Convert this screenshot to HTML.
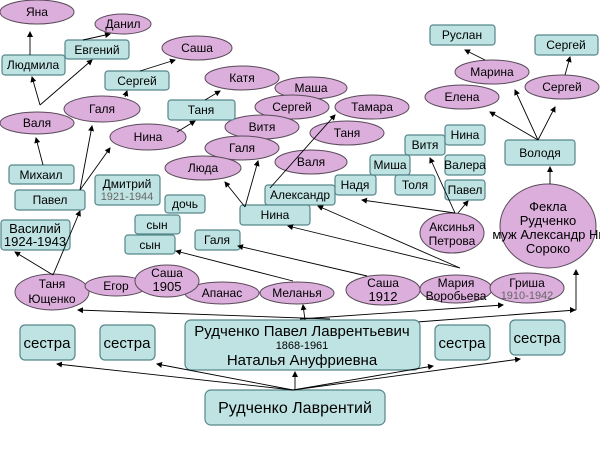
<!DOCTYPE html>
<html><head><meta charset="utf-8">
<style>
html,body{margin:0;padding:0;background:#fff;}
svg{display:block;}
.b{fill:#bfe3e3;stroke:#55868a;stroke-width:1.2;}
.e{fill:#dcaedc;stroke:#5a4a5a;stroke-width:1;}
text{font-family:"Liberation Sans",Arial,sans-serif;font-size:12px;fill:#000;text-anchor:middle;}
.g{fill:#666;font-size:11px;}
.l{stroke:#000;stroke-width:0.9;fill:none;marker-end:url(#a);}
.n{stroke:#000;stroke-width:0.9;fill:none;}
</style></head>
<body>
<svg width="600" height="450" viewBox="0 0 600 450" xmlns="http://www.w3.org/2000/svg">
<defs><marker id="a" markerWidth="6" markerHeight="6" refX="5" refY="3" orient="auto" markerUnits="userSpaceOnUse"><path d="M0,0 L6,3 L0,6 z" fill="#000"/></marker></defs>

<!-- lower connectors (under shapes) -->
<line class="n" x1="417" y1="322" x2="576" y2="310"/>
<line class="l" x1="576" y1="310" x2="576" y2="270"/>
<path d="M576,310 l-6,-3 l0,6 z" fill="#000"/>

<!-- ellipses -->
<ellipse class="e" cx="37" cy="12" rx="37" ry="12"/><text x="37" y="16">Яна</text>
<ellipse class="e" cx="123" cy="24" rx="28" ry="10"/><text x="123" y="28">Данил</text>
<ellipse class="e" cx="197" cy="48" rx="35" ry="12"/><text x="197" y="52">Саша</text>
<ellipse class="e" cx="102" cy="109" rx="38" ry="13"/><text x="102" y="113">Галя</text>
<ellipse class="e" cx="37" cy="123" rx="37" ry="11"/><text x="37" y="127">Валя</text>
<ellipse class="e" cx="148" cy="137" rx="38" ry="13"/><text x="148" y="141">Нина</text>
<ellipse class="e" cx="242" cy="78" rx="37" ry="12"/><text x="242" y="82">Катя</text>
<ellipse class="e" cx="311" cy="88" rx="36" ry="11"/><text x="311" y="92">Маша</text>
<ellipse class="e" cx="292" cy="107" rx="37" ry="12"/><text x="292" y="111">Сергей</text>
<ellipse class="e" cx="372" cy="107" rx="37" ry="12"/><text x="372" y="111">Тамара</text>
<ellipse class="e" cx="262" cy="127" rx="37" ry="12"/><text x="262" y="131">Витя</text>
<ellipse class="e" cx="347" cy="133" rx="37" ry="12"/><text x="347" y="137">Таня</text>
<ellipse class="e" cx="242" cy="148" rx="37" ry="12"/><text x="242" y="152">Галя</text>
<ellipse class="e" cx="203" cy="168" rx="38" ry="12"/><text x="203" y="172">Люда</text>
<ellipse class="e" cx="311" cy="162" rx="36" ry="12"/><text x="311" y="166">Валя</text>
<ellipse class="e" cx="492" cy="72" rx="37" ry="12"/><text x="492" y="76">Марина</text>
<ellipse class="e" cx="462" cy="97" rx="37" ry="12"/><text x="462" y="101">Елена</text>
<ellipse class="e" cx="562" cy="87" rx="37" ry="12"/><text x="562" y="91">Сергей</text>
<ellipse class="e" cx="452" cy="233" rx="32" ry="20"/><text x="452" y="231">Аксинья</text><text x="452" y="245">Петрова</text>
<ellipse class="e" cx="548" cy="226" rx="48" ry="42"/>
<text x="548" y="211" style="font-size:13px">Фекла</text>
<text x="548" y="225" style="font-size:13px">Рудченко</text>
<text x="549" y="239" style="font-size:13px">муж Александр Ни</text>
<text x="548" y="253" style="font-size:13px">Сороко</text>

<ellipse class="e" cx="52" cy="292" rx="37" ry="18"/><text x="52" y="288">Таня</text><text x="52" y="303">Ющенко</text>
<ellipse class="e" cx="116" cy="286" rx="31" ry="10"/><text x="116" y="290">Егор</text>
<ellipse class="e" cx="222" cy="293" rx="37" ry="11"/><text x="222" y="297">Апанас</text>
<ellipse class="e" cx="167" cy="281" rx="32" ry="16"/><text x="167" y="277">Саша</text><text x="167" y="291" style="font-size:13px">1905</text>
<ellipse class="e" cx="297" cy="293" rx="37" ry="11"/><text x="297" y="297">Меланья</text>
<ellipse class="e" cx="383" cy="290" rx="37" ry="15"/><text x="383" y="287">Саша</text><text x="383" y="301" style="font-size:13px">1912</text>
<ellipse class="e" cx="456" cy="289" rx="36" ry="14"/><text x="456" y="287">Мария</text><text x="456" y="300">Воробьева</text>
<ellipse class="e" cx="527" cy="288" rx="37" ry="15"/><text x="527" y="287">Гриша</text><text x="527" y="299" class="g">1910-1942</text>

<!-- boxes -->
<rect class="b" x="65" y="40" width="64" height="19" rx="3"/><text x="97" y="54">Евгений</text>
<rect class="b" x="2" y="55" width="63" height="20" rx="3"/><text x="33" y="69">Людмила</text>
<rect class="b" x="105" y="71" width="64" height="19" rx="3"/><text x="137" y="85">Сергей</text>
<rect class="b" x="168" y="100" width="67" height="20" rx="3"/><text x="201" y="114">Таня</text>
<rect class="b" x="9" y="165" width="65" height="19" rx="3"/><text x="41" y="179">Михаил</text>
<rect class="b" x="15" y="190" width="70" height="20" rx="3"/><text x="50" y="204">Павел</text>
<rect class="b" x="95" y="175" width="65" height="30" rx="3"/><text x="127" y="188">Дмитрий</text><text x="127" y="200" class="g">1921-1944</text>
<rect class="b" x="1" y="220" width="69" height="30" rx="3"/><text x="35" y="233" style="font-size:13px">Василий</text><text x="35" y="246" style="font-size:13px">1924-1943</text>
<rect class="b" x="165" y="195" width="40" height="18" rx="3"/><text x="185" y="208">дочь</text>
<rect class="b" x="135" y="215" width="45" height="19" rx="3"/><text x="157" y="229">сын</text>
<rect class="b" x="125" y="235" width="50" height="19" rx="3"/><text x="150" y="249">сын</text>
<rect class="b" x="195" y="230" width="45" height="20" rx="3"/><text x="217" y="244">Галя</text>
<rect class="b" x="265" y="185" width="70" height="20" rx="3"/><text x="300" y="199">Александр</text>
<rect class="b" x="240" y="205" width="70" height="20" rx="3"/><text x="275" y="219">Нина</text>
<rect class="b" x="335" y="175" width="41" height="20" rx="3"/><text x="355" y="189">Надя</text>
<rect class="b" x="370" y="155" width="40" height="20" rx="3"/><text x="390" y="169">Миша</text>
<rect class="b" x="395" y="175" width="40" height="20" rx="3"/><text x="415" y="189">Толя</text>
<rect class="b" x="405" y="135" width="40" height="20" rx="3"/><text x="425" y="149">Витя</text>
<rect class="b" x="445" y="125" width="40" height="20" rx="3"/><text x="465" y="139">Нина</text>
<rect class="b" x="445" y="155" width="40" height="20" rx="3"/><text x="465" y="169">Валера</text>
<rect class="b" x="445" y="180" width="40" height="20" rx="3"/><text x="465" y="194">Павел</text>
<rect class="b" x="505" y="140" width="70" height="25" rx="3"/><text x="540" y="157">Володя</text>
<rect class="b" x="430" y="25" width="65" height="20" rx="3"/><text x="462" y="39">Руслан</text>
<rect class="b" x="535" y="35" width="63" height="20" rx="3"/><text x="566" y="49">Сергей</text>

<rect class="b" x="20" y="325" width="55" height="35" rx="5"/><text x="47" y="348" style="font-size:15px">сестра</text>
<rect class="b" x="100" y="325" width="55" height="35" rx="5"/><text x="127" y="348" style="font-size:15px">сестра</text>
<rect class="b" x="185" y="320" width="235" height="50" rx="6"/>
<text x="302" y="336" style="font-size:15px">Рудченко Павел Лаврентьевич</text>
<text x="302" y="349" style="font-size:11px">1868-1961</text>
<text x="302" y="365" style="font-size:15px">Наталья Ануфриевна</text>
<rect class="b" x="435" y="325" width="55" height="35" rx="5"/><text x="462" y="348" style="font-size:15px">сестра</text>
<rect class="b" x="510" y="320" width="55" height="35" rx="5"/><text x="537" y="343" style="font-size:15px">сестра</text>
<rect class="b" x="205" y="390" width="180" height="35" rx="6"/><text x="295" y="413" style="font-size:16px">Рудченко Лаврентий</text>

<!-- connectors -->
<line class="l" x1="293" y1="390" x2="57" y2="364"/>
<line class="l" x1="293" y1="390" x2="157" y2="364"/>
<line class="l" x1="295" y1="390" x2="295" y2="372"/>
<line class="l" x1="293" y1="390" x2="433" y2="366"/>
<line class="l" x1="293" y1="390" x2="520" y2="359"/>

<line class="l" x1="330" y1="319" x2="78" y2="310"/>
<line class="l" x1="305" y1="320" x2="303" y2="305"/>
<line class="l" x1="300" y1="319" x2="503" y2="305"/>

<line class="l" x1="367" y1="276" x2="238" y2="246"/>
<line class="l" x1="293" y1="281" x2="176" y2="251"/>
<line class="l" x1="460" y1="268" x2="288" y2="226"/>
<line class="l" x1="460" y1="268" x2="318" y2="206"/>
<line class="l" x1="455" y1="213" x2="362" y2="200"/>
<line class="l" x1="455" y1="213" x2="430" y2="158"/>
<line class="l" x1="458" y1="213" x2="468" y2="201"/>
<line class="l" x1="550" y1="184" x2="550" y2="167"/>

<line class="l" x1="538" y1="140" x2="490" y2="112"/>
<line class="l" x1="538" y1="140" x2="515" y2="90"/>
<line class="l" x1="538" y1="140" x2="555" y2="107"/>
<line class="l" x1="485" y1="60" x2="465" y2="50"/>
<line class="l" x1="565" y1="75" x2="570" y2="57"/>

<line class="l" x1="40" y1="105" x2="32" y2="77"/>
<line class="l" x1="40" y1="105" x2="92" y2="60"/>
<line class="l" x1="30" y1="55" x2="30" y2="32"/>
<line class="l" x1="83" y1="40" x2="110" y2="34"/>
<line class="l" x1="125" y1="97" x2="127" y2="91"/>
<line class="l" x1="140" y1="71" x2="175" y2="60"/>
<line class="l" x1="177" y1="132" x2="195" y2="121"/>
<line class="l" x1="205" y1="100" x2="220" y2="91"/>
<line class="l" x1="43" y1="165" x2="36" y2="138"/>
<line class="l" x1="80" y1="190" x2="92" y2="126"/>
<line class="l" x1="80" y1="190" x2="110" y2="148"/>
<line class="l" x1="53" y1="275" x2="15" y2="252"/>
<line class="l" x1="53" y1="275" x2="80" y2="211"/>
<line class="l" x1="245" y1="207" x2="225" y2="182"/>
<line class="l" x1="245" y1="207" x2="258" y2="161"/>
<line class="l" x1="270" y1="188" x2="335" y2="115"/>
</svg>
</body></html>
